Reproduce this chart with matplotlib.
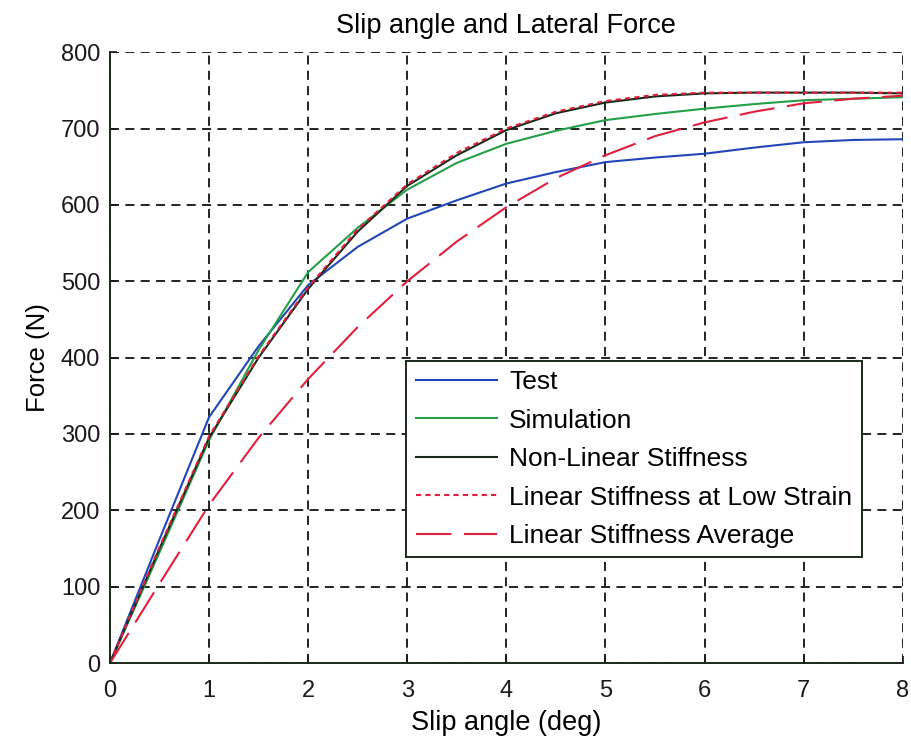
import matplotlib
matplotlib.use("Agg")
import matplotlib.pyplot as plt

plt.rcParams['font.family'] = ['Liberation Sans', 'DejaVu Sans']

# Slip angle (deg) sample points
slip = [0, 0.5, 1, 1.5, 2, 2.5, 3, 3.5, 4, 4.5, 5, 5.5, 6, 6.5, 7, 7.5, 8]

# Lateral force (N) for each series
test = [0, 162, 322, 415, 495, 545, 582, 606, 628, 643, 656, 662, 667, 675, 682, 685, 686]
simulation = [0, 145, 292, 410, 512, 570, 620, 655, 680, 697, 711, 719, 726, 732, 737, 739, 741]
nonlinear = [0, 150, 295, 400, 490, 565, 625, 665, 698, 720, 734, 742, 746, 747, 747, 747, 746]
linear_low = [0, 152, 297, 402, 492, 568, 627, 668, 700, 722, 736, 744, 747, 747, 747, 747, 747]
linear_avg = [0, 104, 207, 295, 372, 440, 500, 552, 597, 635, 665, 690, 708, 722, 733, 739, 743]

fig = plt.figure(figsize=(9.11, 7.45), dpi=100)
ax = fig.add_axes([0.1207, 0.110, 0.8703, 0.820])

ax.plot(slip, test, color='#2246b8', lw=1.5, label='Test')
ax.plot(slip, simulation, color='#23a048', lw=1.5, label='Simulation')
ax.plot(slip, nonlinear, color='#1a2a1a', lw=1.5, label='Non-Linear Stiffness')
ax.plot(slip, linear_low, color='#e0203c', lw=1.5, dashes=(2.5, 2),
        label='Linear Stiffness at Low Strain')
ax.plot(slip, linear_avg, color='#e0203c', lw=1.5, dashes=(17, 6),
        label='Linear Stiffness Average')

ax.set_xlim(0, 8)
ax.set_ylim(0, 800)
ax.set_xticks(range(0, 9))
ax.set_yticks(range(0, 801, 100))
ax.grid(True, color='#111111', lw=1.3, dashes=(5, 3.5))
ax.set_axisbelow(True)
for side in ('top', 'right'):
    ax.spines[side].set_visible(False)
for side in ('left', 'bottom'):
    ax.spines[side].set_linewidth(1.4)
    ax.spines[side].set_color('#1a2a1a')
ax.tick_params(direction='in', length=5, width=1.2, labelsize=17,
               colors='#1a1a1a')
ax.tick_params(axis='x', pad=12)
ax.tick_params(axis='y', pad=7)

ax.set_title('Slip angle and Lateral Force', fontsize=19.5, pad=14)
ax.set_xlabel('Slip angle (deg)', fontsize=19.5, labelpad=6)
ax.set_ylabel('Force (N)', fontsize=18.5, labelpad=8)

leg = ax.legend(loc='lower right', bbox_to_anchor=(0.948, 0.173),
                fontsize=19, fancybox=False, framealpha=1,
                edgecolor='#1a2a1a', handlelength=3.1, handletextpad=0.45,
                labelspacing=0.55, borderpad=0.35, borderaxespad=0)
leg.get_frame().set_linewidth(1.4)

fig.savefig('out.png', dpi=100)
